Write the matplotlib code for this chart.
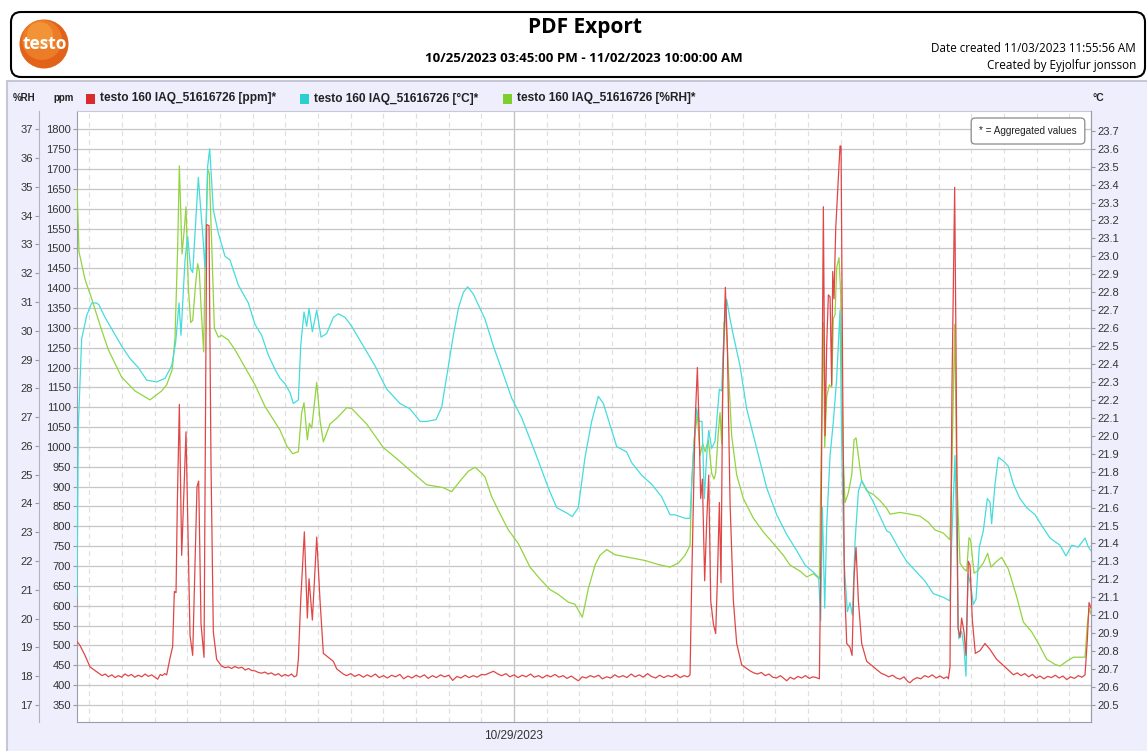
import matplotlib.pyplot as plt
import matplotlib.dates as mdates
import numpy as np
import pandas as pd
from matplotlib.patches import FancyBboxPatch, Rectangle, Circle
from matplotlib.ticker import FixedLocator, FormatStrFormatter

plt.rcParams['font.family'] = ['Liberation Sans', 'DejaVu Sans']

start = pd.Timestamp('2023-10-25 15:45')
end = pd.Timestamp('2023-11-02 10:00')
day_mark = pd.Timestamp('2023-10-29 00:00')

# CO2 [ppm] as (hours since start, value)
ppm_points = [
    (0.0, 510), (0.55, 500), (1.47, 475), (2.39, 446),
    (3.92, 431), (4.6, 424), (5.2, 428), (5.76, 421), (6.4, 426), (7.0, 419), (7.59, 424),
    (8.2, 420), (8.8, 428), (9.43, 423), (10.0, 427), (10.6, 420), (11.27, 425), (11.9, 421),
    (12.5, 428), (13.1, 422), (13.7, 426), (14.3, 420), (14.82, 415), (15.3, 427), (15.67, 424),
    (16.1, 429), (16.47, 426),
    (17.08, 468), (17.57, 497), (17.88, 636), (18.19, 633), (18.43, 860), (18.80, 1107),
    (19.23, 727), (20.02, 1038), (20.76, 525), (21.25, 475), (22.04, 900), (22.35, 914),
    (22.78, 554), (23.33, 470), (23.82, 1560), (24.25, 1557), (24.61, 959), (25.04, 534),
    (25.65, 465), (26.57, 448),
    (27.2, 444), (27.80, 446), (28.4, 442), (29.0, 447), (29.63, 443), (30.3, 445), (30.9, 438),
    (31.5, 442), (32.08, 437), (32.7, 436), (33.31, 432), (33.9, 430), (34.5, 433), (35.1, 428),
    (35.7, 431), (36.37, 425), (37.0, 429), (37.6, 422), (38.2, 427), (38.8, 423), (39.4, 428),
    (39.9, 421), (40.35, 424),
    (40.66, 465), (41.09, 613), (41.76, 786), (42.31, 569), (42.62, 668), (43.23, 564),
    (44.03, 773), (44.64, 613), (45.25, 480), (46.17, 470), (47.09, 460), (47.70, 441),
    (48.92, 428),
    (49.5, 424), (50.3, 429), (51.0, 422), (51.8, 427), (52.6, 420), (53.3, 426), (54.0, 421),
    (54.8, 428), (55.5, 419), (56.3, 424), (57.0, 418), (57.8, 425), (58.5, 421), (59.3, 427),
    (60.0, 416), (60.8, 423), (61.5, 418), (62.3, 425), (63.0, 420), (63.8, 426), (64.5, 417),
    (65.3, 424), (66.0, 419), (66.8, 426), (67.5, 421), (68.3, 425), (69.0, 412), (69.8, 422),
    (70.5, 418), (71.3, 425), (72.0, 419), (72.8, 424), (73.5, 420), (74.3, 427), (75.0, 426),
    (75.8, 431), (76.5, 435), (77.3, 428), (78.0, 424), (78.8, 429), (79.5, 421), (80.3, 426),
    (81.0, 419), (81.8, 425), (82.5, 421), (83.3, 428), (84.0, 420), (84.8, 424), (85.5, 418),
    (86.3, 425), (87.0, 421), (87.8, 427), (88.5, 420), (89.3, 424), (90.0, 417), (90.8, 423),
    (91.5, 416), (92.1, 411), (92.8, 421), (93.5, 418), (94.3, 424), (95.0, 420), (95.8, 425),
    (96.5, 416), (97.3, 421), (98.0, 418), (98.8, 426), (99.5, 420), (100.3, 424), (101.0, 419),
    (101.8, 428), (102.5, 421), (103.3, 426), (104.0, 420), (104.8, 429), (105.5, 422),
    (106.3, 418), (107.0, 425), (107.8, 419), (108.5, 424), (109.3, 421), (110.0, 427),
    (110.8, 419), (111.5, 424), (112.2, 421), (112.6, 426),
    (112.91, 663), (113.52, 1057), (113.95, 1200), (114.25, 1057), (114.56, 870), (114.87, 919),
    (115.29, 663), (115.66, 811), (116.03, 929), (116.40, 613), (116.89, 554), (117.31, 530),
    (117.62, 663), (117.99, 860), (118.29, 658), (118.60, 1156), (119.09, 1402), (119.46, 1254),
    (119.95, 860), (120.56, 613), (121.17, 505), (122.09, 451),
    (123.62, 436), (124.3, 431), (125.0, 428), (125.7, 432), (126.4, 424), (127.1, 428),
    (127.8, 420), (128.5, 418), (129.2, 424), (129.9, 416), (130.36, 411), (131.0, 420),
    (131.7, 415), (132.4, 422), (133.1, 418), (133.8, 424), (134.5, 417), (135.2, 421),
    (135.8, 419), (136.36, 416),
    (136.66, 761), (137.09, 1605), (137.40, 1028), (137.70, 1254), (138.01, 1383), (138.32, 1378),
    (138.62, 1156), (138.81, 1442), (139.05, 1373), (139.36, 1550), (139.73, 1649), (140.15, 1758),
    (140.34, 1758), (140.64, 1156), (140.95, 663), (141.38, 505), (141.99, 495), (142.36, 475),
    (142.73, 673), (143.09, 747), (143.52, 613), (144.13, 505), (145.05, 460),
    (146.28, 446), (147.0, 438), (147.7, 430), (148.4, 426), (149.1, 421), (149.8, 425),
    (150.5, 418), (151.2, 415), (151.9, 421), (152.6, 409), (153.0, 406), (153.6, 414),
    (154.3, 419), (155.0, 416), (155.7, 424), (156.4, 420), (157.1, 426), (157.8, 418),
    (158.5, 423), (159.2, 417), (159.8, 421), (160.05, 416),
    (160.35, 446), (160.72, 1156), (161.21, 1654), (161.45, 1254), (161.82, 544), (162.19, 520),
    (162.49, 569), (162.92, 534), (163.29, 475), (163.72, 712), (164.03, 702), (164.45, 564),
    (165.00, 480), (165.86, 487), (166.78, 505), (167.70, 490), (168.92, 465), (170.45, 446),
    (172.0, 426), (172.7, 431), (173.4, 424), (174.1, 429), (174.8, 421), (175.5, 427),
    (176.2, 418), (176.9, 423), (177.6, 416), (178.3, 422), (179.0, 419), (179.7, 425),
    (180.4, 418), (181.1, 423), (181.8, 414), (182.5, 421), (183.2, 417), (183.9, 424),
    (184.6, 420), (185.15, 426), (185.58, 515), (185.89, 608), (186.25, 594),
]

# temperature [°C]
temp_hours = [0.0, 0.25, 0.86, 1.78, 2.70, 3.61, 4.04, 5.14, 6.67, 8.20, 9.74, 11.27, 12.80,
              14.63, 16.16, 17.39, 18.12, 18.74, 19.10, 19.84, 20.33, 20.88, 21.25, 21.80,
              22.29, 22.78, 23.08, 23.51, 24.00, 24.37, 25.04, 25.96, 27.19, 28.10, 29.63,
              31.47, 32.70, 33.92, 35.14, 36.37, 37.29, 38.21, 39.13, 39.74, 40.66, 41.09,
              41.70, 42.19, 42.62, 43.23, 44.03, 44.82, 45.86, 47.09, 48.01, 49.23, 50.45,
              52.60, 54.74, 56.88, 59.33, 61.17, 63.01, 64.23, 65.95, 66.99, 68.21, 69.13,
              70.05, 70.97, 71.76, 72.80, 74.03, 74.94, 76.47, 78.00, 79.84, 81.68, 84.12,
              86.57, 88.10, 89.94, 90.98, 92.08, 93.31, 94.53, 95.76, 96.68, 98.21, 99.13,
              100.96, 101.88, 103.72, 105.55, 107.39, 108.92, 109.84, 111.68, 112.60, 113.09,
              113.82, 114.31, 114.80, 115.23, 115.66, 116.03, 116.58, 117.19, 117.99, 118.42,
              118.72, 119.33, 119.95, 120.56, 121.78, 123.01, 124.85, 126.68, 128.52, 130.36,
              132.19, 133.72, 135.26, 136.23, 136.60, 136.91, 137.34, 137.70, 138.32, 138.93,
              139.54, 140.15, 140.46, 140.89, 141.50, 141.99, 142.42, 142.91, 143.52, 144.13,
              145.05, 146.28, 147.50, 148.73, 149.33, 150.25, 151.17, 152.39, 154.23, 155.76,
              157.29, 159.13, 160.35, 160.66, 161.27, 161.58, 161.94, 162.49, 162.92, 163.29,
              163.66, 164.15, 164.64, 165.13, 165.74, 166.47, 167.21, 167.70, 168.00, 168.62,
              169.23, 170.15, 171.07, 171.99, 173.21, 174.43, 175.97, 177.19, 178.72, 180.56,
              181.66, 182.70, 183.92, 185.15, 185.76, 186.25]
temp_values = [21.10, 22.06, 22.54, 22.67, 22.74, 22.74, 22.73, 22.66, 22.58, 22.50, 22.43, 22.38, 22.31,
               22.30, 22.32, 22.39, 22.52, 22.74, 22.56, 22.98, 23.11, 22.93, 22.91, 23.19,
               23.44, 23.24, 23.13, 22.93, 23.50, 23.60, 23.26, 23.13, 23.00, 22.98, 22.84,
               22.74, 22.62, 22.56, 22.45, 22.37, 22.32, 22.29, 22.24, 22.18, 22.20, 22.50,
               22.69, 22.61, 22.71, 22.58, 22.70, 22.55, 22.57, 22.66, 22.68, 22.66, 22.61,
               22.50, 22.39, 22.26, 22.18, 22.15, 22.08, 22.08, 22.09, 22.16, 22.39, 22.56,
               22.71, 22.80, 22.83, 22.79, 22.71, 22.65, 22.50, 22.37, 22.21, 22.10, 21.91,
               21.71, 21.60, 21.57, 21.55, 21.60, 21.88, 22.08, 22.22, 22.18, 22.03, 21.94,
               21.91, 21.85, 21.78, 21.73, 21.66, 21.56, 21.56, 21.54, 21.54, 21.84,
               22.15, 22.08, 22.08, 21.65, 21.89, 22.03, 21.93, 21.97, 22.26, 22.25,
               22.50, 22.76, 22.65, 22.56, 22.39, 22.15, 21.93, 21.71, 21.56, 21.45,
               21.36, 21.28, 21.24, 21.21, 20.97, 21.60, 21.04, 21.50, 21.89, 22.08,
               22.32, 22.70, 21.95, 21.30, 21.02, 21.07, 21.00, 21.41, 21.69, 21.75,
               21.70, 21.63, 21.55, 21.47, 21.46, 21.41, 21.36, 21.30, 21.24, 21.19,
               21.12, 21.10, 21.08, 21.41, 21.89, 21.41, 20.87, 20.91, 20.82, 20.66,
               21.23, 21.17, 21.06, 21.09, 21.38, 21.47, 21.65, 21.63, 21.51, 21.73,
               21.88, 21.86, 21.83, 21.73, 21.65, 21.60, 21.56, 21.50, 21.43, 21.39,
               21.33, 21.39, 21.38, 21.43, 21.38, 21.36]

# relative humidity [%RH]
rh_hours = [0.0, 0.37, 1.47, 2.70, 4.53, 5.76, 8.20, 10.65, 13.41, 15.55, 16.47, 17.51, 18.00,
            18.49, 18.80, 19.29, 19.72, 20.02, 20.45, 20.88, 21.25, 21.80, 22.16, 22.47, 22.78,
            23.27, 23.51, 24.00, 24.31, 24.74, 25.23, 25.96, 26.57, 27.80, 29.02, 30.86, 32.70,
            34.53, 36.37, 37.29, 38.51, 39.62, 40.66, 41.27, 41.70, 42.31, 42.68, 43.11, 44.03,
            44.64, 45.25, 46.47, 47.70, 49.55, 50.45, 53.21, 56.27, 58.72, 61.78, 64.23, 67.29,
            68.82, 70.35, 71.88, 73.11, 74.33, 74.94, 76.16, 77.39, 79.23, 81.06, 83.21, 85.04,
            86.88, 88.41, 90.25, 91.47, 92.82, 93.92, 95.15, 96.06, 97.29, 98.82, 101.27, 104.33,
            106.78, 108.92, 110.45, 111.68, 112.60, 112.91, 113.33, 113.95, 114.44, 114.93,
            115.36, 115.97, 116.58, 117.01, 117.31, 117.80, 118.11, 118.42, 118.85, 119.21,
            119.64, 120.25, 121.17, 122.40, 124.23, 126.07, 127.91, 129.74, 130.97, 132.81,
            134.03, 135.26, 136.36, 136.66, 137.09, 137.34, 137.70, 138.19, 138.62, 138.93,
            139.24, 139.54, 139.97, 140.28, 140.64, 141.07, 141.68, 142.30, 142.73, 143.09,
            143.52, 144.13, 145.05, 146.28, 147.50, 148.73, 149.33, 151.17, 153.00, 154.84,
            156.37, 157.60, 159.13, 160.35, 160.72, 161.21, 161.58, 162.19, 162.92, 163.41,
            163.84, 164.15, 164.76, 165.37, 166.47, 167.27, 167.88, 168.92, 169.84, 171.07,
            172.60, 173.82, 175.35, 176.58, 178.11, 179.64, 180.56, 181.78, 183.01, 185.15,
            185.58, 185.95, 186.25]
rh_values = [35.0, 32.74, 31.79, 31.11, 30.02, 29.34, 28.39, 27.91, 27.60, 27.91, 28.12, 28.66, 29.75,
             32.88, 35.73, 32.67, 33.56, 34.31, 31.52, 30.29, 30.36, 31.65, 32.33, 32.06, 30.84,
             29.27, 32.20, 35.60, 35.46, 33.01, 30.09, 29.78, 29.84, 29.68, 29.34, 28.73, 28.12,
             27.37, 26.82, 26.55, 26.01, 25.73, 25.80, 27.16, 27.50, 26.21, 26.78, 26.62, 28.21,
             26.89, 26.14, 26.76, 26.96, 27.33, 27.30, 26.76, 25.94, 25.56, 25.05, 24.65, 24.55,
             24.41, 24.78, 25.12, 25.26, 25.05, 24.92, 24.24, 23.76, 23.08, 22.61, 21.79, 21.38,
             21.01, 20.84, 20.57, 20.50, 20.05, 21.04, 21.86, 22.20, 22.40, 22.22, 22.13, 22.02,
             21.88, 21.79, 21.93, 22.20, 22.54, 24.71, 26.21, 27.10, 25.67, 26.07,
             25.80, 26.21, 25.05, 24.85, 25.05, 26.48, 27.16, 26.07, 30.29, 30.36,
             28.66, 26.35, 24.99, 24.17, 23.49, 23.01, 22.61, 22.20, 21.86, 21.65,
             21.45, 21.56, 21.38, 25.39, 30.29, 25.94, 27.71, 28.12, 28.05, 30.43,
             30.56, 32.20, 32.54, 31.24, 26.07, 24.03, 24.37, 24.99, 26.21, 26.28,
             25.67, 24.78, 24.44, 24.31, 24.10, 23.83, 23.63, 23.69, 23.63, 23.56,
             23.35, 23.08, 22.97, 22.74, 25.39, 30.22, 25.12, 21.93, 21.72, 21.65,
             22.81, 22.74, 21.58, 21.65, 21.93, 22.27, 21.79, 21.99, 22.13, 21.72,
             20.76, 19.88, 19.54, 19.14, 18.59, 18.41, 18.35, 18.52, 18.66, 18.66,
             19.82, 20.36, 20.16]

ppm_ticks = np.arange(350, 1801, 50)
rh_ticks = np.arange(17, 38, 1)
temp_ticks = np.round(np.arange(20.5, 23.71, 0.1), 1)

series_names = ['testo 160 IAQ_51616726 [ppm]*', 'testo 160 IAQ_51616726 [°C]*',
                'testo 160 IAQ_51616726 [%RH]*']
c_red, c_cyan, c_green = '#e04646', '#45dcdc', '#92d43e'

ppm_hours, ppm_values = zip(*ppm_points)


def to_time(hours):
    return start + pd.to_timedelta(np.array(hours), unit='h')


W, H = 1147, 751
fig = plt.figure(figsize=(W / 100, H / 100), dpi=100)

# page background in pixel units
bg = fig.add_axes([0, 0, 1, 1], zorder=-1)
bg.set_xlim(0, W)
bg.set_ylim(H, 0)
bg.axis('off')

bg.add_patch(FancyBboxPatch((11, 12), 1134, 65, boxstyle='round,pad=0,rounding_size=10',
                            fc='white', ec='black', lw=1.5))
bg.add_patch(Rectangle((7, 81), 1142, 672, fc='#eeeefc', ec='#c6c6d6', lw=1.5))

# logo
bg.add_patch(Circle((44, 44), 24.5, fc='#e2621a', ec='none'))
bg.add_patch(Circle((42, 40), 20, fc='#ec7c26', ec='none'))
bg.add_patch(Circle((40, 35), 13, fc='#f49a3c', ec='none', alpha=0.8))
bg.text(44.5, 44, 'testo', color='white', fontsize=12.5, fontweight='bold',
        family='Open Sans', ha='center', va='center')

bg.text(585, 28, 'PDF Export', fontsize=15, fontweight='bold', family='Open Sans',
        ha='center', va='center')
bg.text(584, 58, '10/25/2023 03:45:00 PM - 11/02/2023 10:00:00 AM', fontsize=9.5,
        fontweight='bold', family='Open Sans', ha='center', va='center')
bg.text(1136, 48, 'Date created 11/03/2023 11:55:56 AM', fontsize=8.4, family='Open Sans',
        ha='right', va='center')
bg.text(1136, 66, 'Created by Eyjolfur jonsson', fontsize=8.5, family='Open Sans',
        ha='right', va='center')

# axis unit headers + legend row
bg.text(24, 98, '%RH', fontsize=7, fontweight='bold', ha='center', va='center', color='#222222')
bg.text(64, 98, 'ppm', fontsize=7, fontweight='bold', ha='center', va='center', color='#222222')
bg.text(1098, 98, '°C', fontsize=7.5, fontweight='bold', ha='center', va='center', color='#222222')
for sx, col, name in zip([86, 300, 503], ['#d92b2b', '#2ad0d0', '#7ccf2c'], series_names):
    bg.add_patch(Rectangle((sx, 93.5), 9, 10, fc=col, ec='none'))
    bg.text(sx + 14, 98.5, name, fontsize=8.6, fontweight='bold', ha='left', va='center',
            color='#222222')

# plot area
left, right, top, bottom = 77, 1091, 111, 722
ax = fig.add_axes([left / W, 1 - bottom / H, (right - left) / W, (bottom - top) / H])
ax.set_facecolor('white')
ax_rh = ax.twinx()
ax_t = ax.twinx()
ax_co2 = ax.twinx()

ppm_lim = (307.2, 1846.1)
ax.set_ylim(*ppm_lim)
ax_co2.set_ylim(*ppm_lim)
ax_rh.set_ylim(16.409, 37.636)
ax_t.set_ylim(20.405, 23.81)
ax.set_xlim(start, end)

ax_rh.plot(to_time(rh_hours), rh_values, color=c_green, lw=0.9)
ax_t.plot(to_time(temp_hours), temp_values, color=c_cyan, lw=0.9)
ax_co2.plot(to_time(ppm_hours), ppm_values, color=c_red, lw=0.9)

spine_col = '#9c9cae'
tick_kw = dict(labelsize=8, labelcolor='#333333', color='#999999', length=3, width=0.8, pad=1.5)

ax.set_yticks(ppm_ticks)
ax.tick_params(axis='y', **tick_kw)
ax.grid(axis='y', color='#c6c6c6', lw=0.9)
ax.xaxis.set_major_locator(FixedLocator([mdates.date2num(day_mark)]))
ax.xaxis.set_major_formatter(mdates.DateFormatter('%m/%d/%Y'))
ax.xaxis.set_minor_locator(mdates.HourLocator(byhour=[0, 6, 12, 18]))
ax.grid(axis='x', which='minor', color='#e0e0e0', lw=0.9, ls=(0, (4, 3)))
ax.grid(axis='x', which='major', color='#c4c4c4', lw=1.0, ls='-')
ax.tick_params(axis='x', which='both', length=0, labelsize=8.5, labelcolor='#333333', pad=6)
for s in ax.spines.values():
    s.set_color(spine_col)
ax.spines['top'].set_color('#c8c8d8')

ax_rh.set_yticks(rh_ticks)
ax_rh.yaxis.set_ticks_position('left')
ax_rh.spines['left'].set_position(('axes', -38 / (right - left)))
ax_rh.spines['left'].set_visible(True)
ax_rh.spines['left'].set_color('#b4b4c0')
for k in ['right', 'top', 'bottom']:
    ax_rh.spines[k].set_visible(False)
ax_rh.tick_params(axis='y', **tick_kw)

ax_t.set_yticks(temp_ticks)
ax_t.yaxis.set_major_formatter(FormatStrFormatter('%.1f'))
ax_t.tick_params(axis='y', **tick_kw)
ax_t.spines['right'].set_color(spine_col)
for k in ['left', 'top', 'bottom']:
    ax_t.spines[k].set_visible(False)

ax_co2.axis('off')

ax_co2.text(1028, 131, '* = Aggregated values', transform=bg.transData, fontsize=7.2,
            ha='center', va='center', color='#222222',
            bbox=dict(boxstyle='round,pad=0.8,rounding_size=0.4', fc='white', ec='#8a8a8a', lw=0.9))

fig.savefig('out.png', dpi=100)
